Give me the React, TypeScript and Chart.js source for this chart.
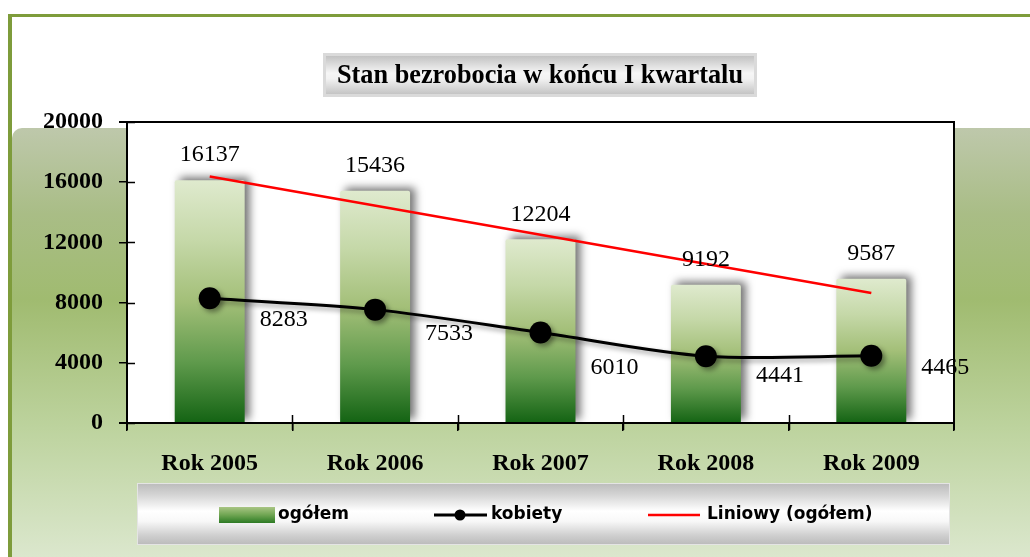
import { useEffect, useRef } from 'react';
import { Chart, registerables } from 'chart.js';

Chart.register(...registerables);

// ---- data ----
const categories = ['Rok 2005', 'Rok 2006', 'Rok 2007', 'Rok 2008', 'Rok 2009'];
const ogolemValues = [16137, 15436, 12204, 9192, 9587];
const kobietyValues = [8283, 7533, 6010, 4441, 4465];
const trendValues: (number | null)[] = [16380, null, null, null, 8642];
const yTicks = [0, 4000, 8000, 12000, 16000, 20000];
const titleText = 'Stan bezrobocia w końcu I kwartalu';
const legendLabels = ['ogółem', 'kobiety', 'Liniowy (ogółem)'];

// ---- styles ----
const W = 1030;
const H = 557;
const lineLabelDx = 74;
const lineLabelDy = [21, 24, 35, 20, 12];
const SERIF = '"Liberation Serif", "Times New Roman", serif';
const SANS = '"DejaVu Sans", sans-serif';

function barGradient(c: any) {
  const chart = c.chart;
  const y = chart.scales && chart.scales.y;
  if (!y || c.dataIndex === undefined) return '#8fb466';
  const v = ogolemValues[c.dataIndex];
  const top = y.getPixelForValue(v);
  const bottom = y.getPixelForValue(0);
  if (!isFinite(top) || !isFinite(bottom) || top === bottom) return '#8fb466';
  const g = chart.ctx.createLinearGradient(0, top, 0, bottom);
  g.addColorStop(0, '#dfeace');
  g.addColorStop(0.25, '#c5d8a8');
  g.addColorStop(0.5, '#a3bf78');
  g.addColorStop(0.75, '#5f9a4c');
  g.addColorStop(1, '#136313');
  return g;
}

const backgroundPlugin = {
  id: 'bgPanel',
  beforeDraw(chart: any) {
    const { ctx, chartArea: a } = chart;
    ctx.save();
    ctx.fillStyle = '#ffffff';
    ctx.fillRect(0, 0, W, H);
    const g = ctx.createLinearGradient(0, 128, 0, H);
    g.addColorStop(0, '#bec8ab');
    g.addColorStop(0.2, '#a9bd86');
    g.addColorStop(0.4, '#a0bb70');
    g.addColorStop(0.7, '#bdd39e');
    g.addColorStop(1, '#dbe7cd');
    ctx.fillStyle = g;
    ctx.beginPath();
    ctx.roundRect(12, 128, W - 12 + 20, H - 128 + 20, [10, 0, 0, 0]);
    ctx.fill();
    ctx.fillStyle = '#7e9c3b';
    ctx.fillRect(8, 14, W - 8, 3);
    ctx.fillRect(8, 14, 4, H - 14);
    ctx.fillStyle = '#ffffff';
    ctx.fillRect(a.left, a.top, a.right - a.left, a.bottom - a.top);
    ctx.restore();
  },
};

const shadowPlugin = {
  id: 'shadows',
  beforeDatasetDraw(chart: any, args: any) {
    const ctx = chart.ctx;
    ctx.save();
    if (args.index === 0) {
      ctx.shadowColor = 'rgba(0,0,0,0.55)';
      ctx.shadowBlur = 9;
      ctx.shadowOffsetX = 5;
      ctx.shadowOffsetY = -3;
    } else if (args.index === 1) {
      ctx.shadowColor = 'rgba(0,0,0,0.4)';
      ctx.shadowBlur = 5;
      ctx.shadowOffsetX = 3;
      ctx.shadowOffsetY = 3;
    }
  },
  afterDatasetDraw(chart: any) {
    chart.ctx.restore();
  },
};

const overlayPlugin = {
  id: 'overlay',
  afterDatasetsDraw(chart: any) {
    const { ctx, chartArea: a } = chart;
    ctx.save();
    ctx.fillStyle = '#000';
    ctx.font = '24px ' + SERIF;
    ctx.textAlign = 'center';
    ctx.textBaseline = 'middle';
    chart.getDatasetMeta(0).data.forEach((el: any, i: number) => {
      ctx.fillText(String(ogolemValues[i]), el.x, el.y - 25);
    });
    chart.getDatasetMeta(1).data.forEach((el: any, i: number) => {
      ctx.fillText(String(kobietyValues[i]), el.x + lineLabelDx, el.y + lineLabelDy[i]);
    });
    ctx.strokeStyle = '#000';
    ctx.lineWidth = 2;
    ctx.beginPath();
    ctx.moveTo(a.left - 8, a.top);
    ctx.lineTo(a.right, a.top);
    ctx.lineTo(a.right, a.bottom + 7);
    ctx.moveTo(a.left - 8, a.bottom);
    ctx.lineTo(a.right, a.bottom);
    ctx.moveTo(a.left, a.top);
    ctx.lineTo(a.left, a.bottom + 7);
    ctx.stroke();
    ctx.lineWidth = 1.5;
    ctx.beginPath();
    const y = chart.scales.y;
    yTicks.forEach((v) => {
      const py = Math.round(y.getPixelForValue(v)) + 0.5;
      ctx.moveTo(a.left, py);
      ctx.lineTo(a.left + 8, py);
    });
    const x = chart.scales.x;
    for (let i = 1; i < categories.length; i++) {
      const px = Math.round((x.getPixelForValue(i - 1) + x.getPixelForValue(i)) / 2) + 0.5;
      ctx.moveTo(px, a.bottom - 8);
      ctx.lineTo(px, a.bottom + 7);
    }
    ctx.stroke();
    ctx.restore();
  },
  afterDraw(chart: any) {
    const ctx = chart.ctx;
    ctx.save();
    ctx.fillStyle = '#dadada';
    ctx.fillRect(323, 53, 434, 44);
    const tg = ctx.createLinearGradient(0, 56, 0, 94);
    tg.addColorStop(0, '#c2c2c2');
    tg.addColorStop(0.45, '#f6f6f6');
    tg.addColorStop(0.6, '#f2f2f2');
    tg.addColorStop(1, '#c4c4c4');
    ctx.fillStyle = tg;
    ctx.fillRect(326, 56, 428, 38);
    ctx.font = 'bold 28px ' + SERIF;
    ctx.textBaseline = 'middle';
    ctx.textAlign = 'center';
    ctx.fillStyle = '#000';
    const tw = ctx.measureText(titleText).width;
    const sx = 406 / tw;
    ctx.save();
    ctx.translate(540, 76);
    ctx.scale(sx, 1);
    ctx.fillText(titleText, 0, 0);
    ctx.restore();

    ctx.fillStyle = '#e4e4e4';
    ctx.fillRect(137, 483, 813, 62);
    const lg = ctx.createLinearGradient(0, 484, 0, 544);
    lg.addColorStop(0, '#bdbdbd');
    lg.addColorStop(0.18, '#d4d4d4');
    lg.addColorStop(0.45, '#ffffff');
    lg.addColorStop(0.62, '#f8f8f8');
    lg.addColorStop(0.85, '#d0d0d0');
    lg.addColorStop(1, '#bcbcbc');
    ctx.fillStyle = lg;
    ctx.fillRect(138, 484, 811, 60);

    const ly = 515;
    const sg = ctx.createLinearGradient(0, 507, 0, 523);
    sg.addColorStop(0, '#a9c584');
    sg.addColorStop(0.5, '#6fa552');
    sg.addColorStop(1, '#2c7a24');
    ctx.fillStyle = sg;
    ctx.fillRect(219, 507, 56, 16);
    ctx.strokeStyle = '#000';
    ctx.lineWidth = 3;
    ctx.beginPath();
    ctx.moveTo(434, ly);
    ctx.lineTo(487, ly);
    ctx.stroke();
    ctx.fillStyle = '#000';
    ctx.beginPath();
    ctx.arc(460, ly, 5.5, 0, Math.PI * 2);
    ctx.fill();
    ctx.strokeStyle = '#ff0000';
    ctx.lineWidth = 2.5;
    ctx.beginPath();
    ctx.moveTo(648, ly);
    ctx.lineTo(700, ly);
    ctx.stroke();

    ctx.fillStyle = '#000';
    ctx.font = 'bold 17px ' + SANS;
    ctx.textAlign = 'left';
    ctx.textBaseline = 'middle';
    ctx.fillText(legendLabels[0], 278, ly);
    ctx.fillText(legendLabels[1], 491, ly);
    ctx.fillText(legendLabels[2], 707, ly);
    ctx.restore();
  },
};

export default function App() {
  const canvasRef = useRef<HTMLCanvasElement | null>(null);

  useEffect(() => {
    const canvas = canvasRef.current;
    if (!canvas) return;
    const tickFont = { family: SERIF, size: 24, weight: 'bold' as const };
    const chart = new Chart(canvas, {
      type: 'bar',
      data: {
        labels: categories,
        datasets: [
          {
            type: 'bar',
            label: legendLabels[0],
            data: ogolemValues,
            backgroundColor: barGradient as any,
            categoryPercentage: 1,
            barPercentage: 0.423,
            borderRadius: 2,
            borderSkipped: 'bottom',
            order: 3,
          },
          {
            type: 'line',
            label: legendLabels[1],
            data: kobietyValues,
            borderColor: '#000000',
            backgroundColor: '#000000',
            borderWidth: 3,
            pointRadius: 11,
            pointBackgroundColor: '#000000',
            pointBorderWidth: 0,
            tension: 0.3,
            order: 2,
          },
          {
            type: 'line',
            label: legendLabels[2],
            data: trendValues,
            borderColor: '#ff0000',
            borderWidth: 2.5,
            pointRadius: 0,
            spanGaps: true,
            tension: 0,
            order: 1,
          },
        ],
      } as any,
      options: {
        responsive: false,
        animation: false,
        devicePixelRatio: 1,
        layout: { padding: { top: 122, right: 76, left: 0, bottom: 0 } },
        plugins: {
          legend: { display: false },
          title: { display: false },
          tooltip: { enabled: false },
        },
        scales: {
          x: {
            grid: {
              offset: true,
              drawOnChartArea: false,
              drawTicks: true,
              tickLength: 8,
              color: '#000',
              lineWidth: 1.5,
            },
            border: { display: true, color: '#000', width: 2 },
            ticks: { font: tickFont, color: '#000', padding: 18, maxRotation: 0 },
            afterFit: (s: any) => {
              s.height = 134;
            },
          },
          y: {
            min: 0,
            max: 20000,
            afterBuildTicks: (s: any) => {
              s.ticks = yTicks.map((v) => ({ value: v }));
            },
            grid: {
              drawOnChartArea: false,
              drawTicks: true,
              tickLength: 8,
              color: '#000',
              lineWidth: 1.5,
            },
            border: { display: true, color: '#000', width: 2 },
            ticks: {
              font: tickFont,
              color: '#000',
              padding: 16,
              callback: (v: any) => String(v),
            },
            afterFit: (s: any) => {
              s.width = 127;
            },
          },
        },
      } as any,
      plugins: [backgroundPlugin, shadowPlugin, overlayPlugin],
    });
    return () => chart.destroy();
  }, []);

  return (
    <div style={{ position: 'absolute', left: 0, top: 0, width: W, height: H }}>
      <canvas ref={canvasRef} width={W} height={H} style={{ width: W, height: H, display: 'block' }} />
    </div>
  );
}
